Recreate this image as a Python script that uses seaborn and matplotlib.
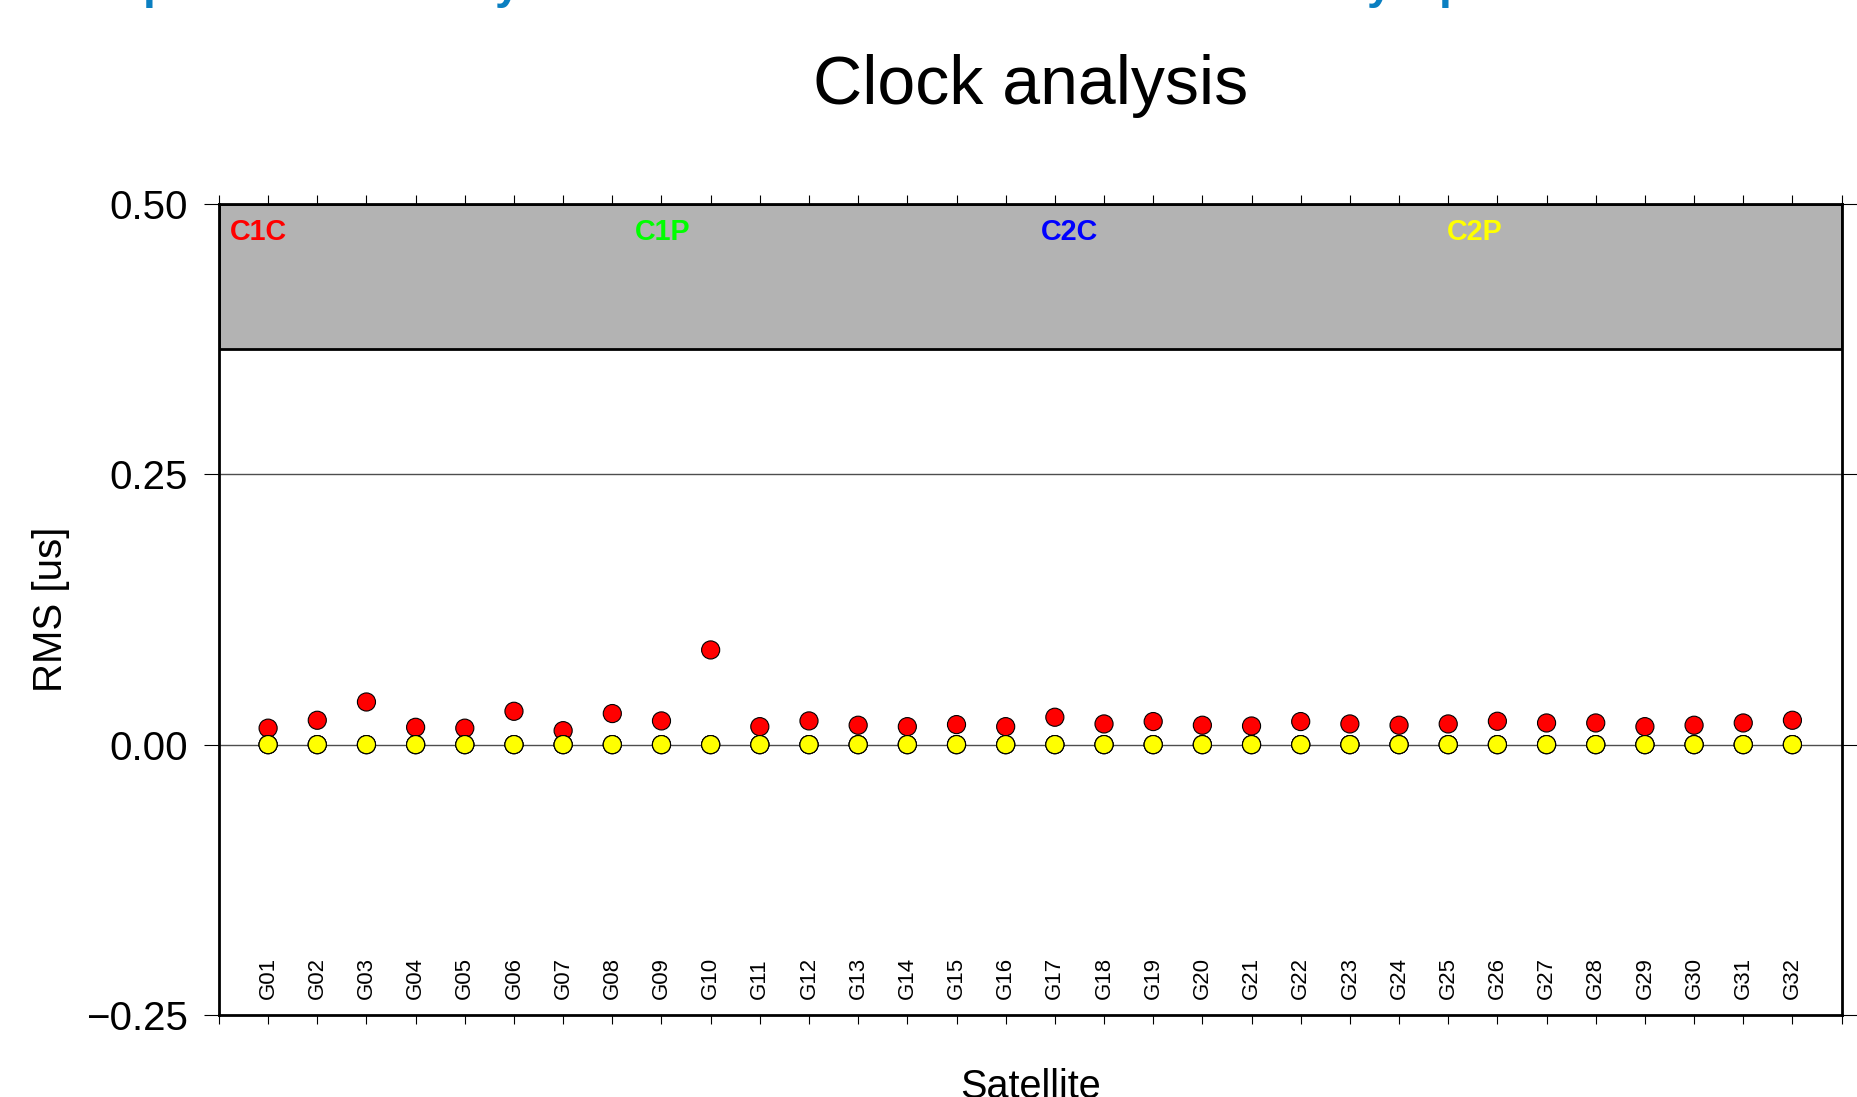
import matplotlib
matplotlib.use("Agg")
import matplotlib.pyplot as plt
import numpy as np
import pandas as pd
import seaborn as sns

# ---------------- data ----------------
satellites = ["G01", "G02", "G03", "G04", "G05", "G06", "G07", "G08",
              "G09", "G10", "G11", "G12", "G13", "G14", "G15", "G16",
              "G17", "G18", "G19", "G20", "G21", "G22", "G23", "G24",
              "G25", "G26", "G27", "G28", "G29", "G30", "G31", "G32"]
c1c = [0.0152, 0.0225, 0.0394, 0.0160, 0.0152, 0.0308, 0.0129, 0.0287,
       0.0219, 0.0875, 0.0166, 0.0219, 0.0179, 0.0166, 0.0185, 0.0166,
       0.0253, 0.0191, 0.0213, 0.0179, 0.0172, 0.0213, 0.0191, 0.0179,
       0.0191, 0.0216, 0.0200, 0.0200, 0.0166, 0.0179, 0.0200, 0.0225]
c1p = [0.0, 0.0, 0.0, 0.0, 0.0, 0.0, 0.0, 0.0, 0.0, 0.0, 0.0, 0.0, 0.0, 0.0, 0.0, 0.0,
       0.0, 0.0, 0.0, 0.0, 0.0, 0.0, 0.0, 0.0, 0.0, 0.0, 0.0, 0.0, 0.0, 0.0, 0.0, 0.0]
c2c = [0.0, 0.0, 0.0, 0.0, 0.0, 0.0, 0.0, 0.0, 0.0, 0.0, 0.0, 0.0, 0.0, 0.0, 0.0, 0.0,
       0.0, 0.0, 0.0, 0.0, 0.0, 0.0, 0.0, 0.0, 0.0, 0.0, 0.0, 0.0, 0.0, 0.0, 0.0, 0.0]
c2p = [0.0, 0.0, 0.0, 0.0, 0.0, 0.0, 0.0, 0.0, 0.0, 0.0, 0.0, 0.0, 0.0, 0.0, 0.0, 0.0,
       0.0, 0.0, 0.0, 0.0, 0.0, 0.0, 0.0, 0.0, 0.0, 0.0, 0.0, 0.0, 0.0, 0.0, 0.0, 0.0]
signals = ["C1C", "C1P", "C2C", "C2P"]
signal_colors = ["#ff0000", "#00ff00", "#0000ff", "#ffff00"]
yticks = [-0.25, 0.0, 0.25, 0.50]
ytick_labels = ["\u22120.25", "0.00", "0.25", "0.50"]
gridlines = [0.25, 0.0]
legend_box = (0.366, 0.50)

# ---------------- fonts / style ----------------
sns.set_style("white")
plt.rcParams["font.family"] = ["Liberation Sans", "DejaVu Sans"]
plt.rcParams["text.color"] = "black"
plt.rcParams["axes.labelcolor"] = "black"
plt.rcParams["xtick.color"] = "black"
plt.rcParams["ytick.color"] = "black"
plt.rcParams["axes.edgecolor"] = "black"

# ---------------- frame ----------------
positions = np.arange(1, len(satellites) + 1)
df = pd.DataFrame({
    "pos": np.concatenate([positions] * 4),
    "rms": np.concatenate([c1c, c1p, c2c, c2p]),
    "signal": np.repeat(signals, len(satellites)),
})

fig = plt.figure(figsize=(18.57, 10.97), dpi=100)
ax = fig.add_axes([0.1179, 0.0747, 0.8738, 0.7396])

ax.axhspan(legend_box[0], legend_box[1], facecolor="#b3b3b3",
           edgecolor="black", linewidth=2.0, zorder=1)
for g in gridlines:
    ax.axhline(g, color="0.3", lw=1.0, zorder=0.5)

sns.scatterplot(data=df, x="pos", y="rms", hue="signal", hue_order=signals,
                palette=signal_colors, s=170, edgecolor="black",
                linewidth=0.8, legend=False, ax=ax, zorder=3)

ax.set_xlim(0, len(satellites) + 1)
ax.set_ylim(-0.25, 0.50)

for sp in ax.spines.values():
    sp.set_linewidth(2.0)
    sp.set_color("black")
    sp.set_zorder(5)

ax.set_yticks(yticks, ytick_labels, fontsize=29, color="black")
ax.tick_params(axis="y", direction="out", length=10.5, width=0.8,
               left=True, right=True, labelleft=True, labelright=False,
               pad=12, color="black", labelcolor="black")

xt = np.arange(0, len(satellites) + 2)
xl = [""] + satellites + [""]
ax.set_xticks(xt, xl, rotation=90, va="bottom", fontsize=16, color="black")
ax.tick_params(axis="x", direction="out", length=6.5, width=0.8,
               top=True, bottom=True, labelbottom=True, labeltop=False,
               pad=-18, color="black", labelcolor="black")

ax.set_ylabel("RMS [us]", fontsize=29, color="black")
ax.yaxis.set_label_coords(-0.092, 0.5)
ax.set_xlabel("Satellite", fontsize=28.5, color="black")
ax.xaxis.label.set_va("baseline")
ax.xaxis.set_label_coords(0.5, -0.1017)

ax.set_title("Clock analysis", fontsize=49, y=1.113, color="black")

for i, (name, col) in enumerate(zip(signals, signal_colors)):
    ax.text(0.0065 + 0.25 * i, 0.9553, name, transform=ax.transAxes,
            color=col, fontsize=20.7, fontweight="bold", ha="left",
            va="baseline", zorder=6)

# fragments of a heading cut off at the top edge of the picture
for xpix, ch in [(143, "p"), (495, "y"), (1367, "y"), (1439, "p")]:
    fig.text(xpix / 1857, 1 + 2 / 1097, ch, color="#0a7fc1", fontsize=33,
             fontweight="bold", ha="left", va="baseline")

fig.savefig("out.png", dpi=100)
